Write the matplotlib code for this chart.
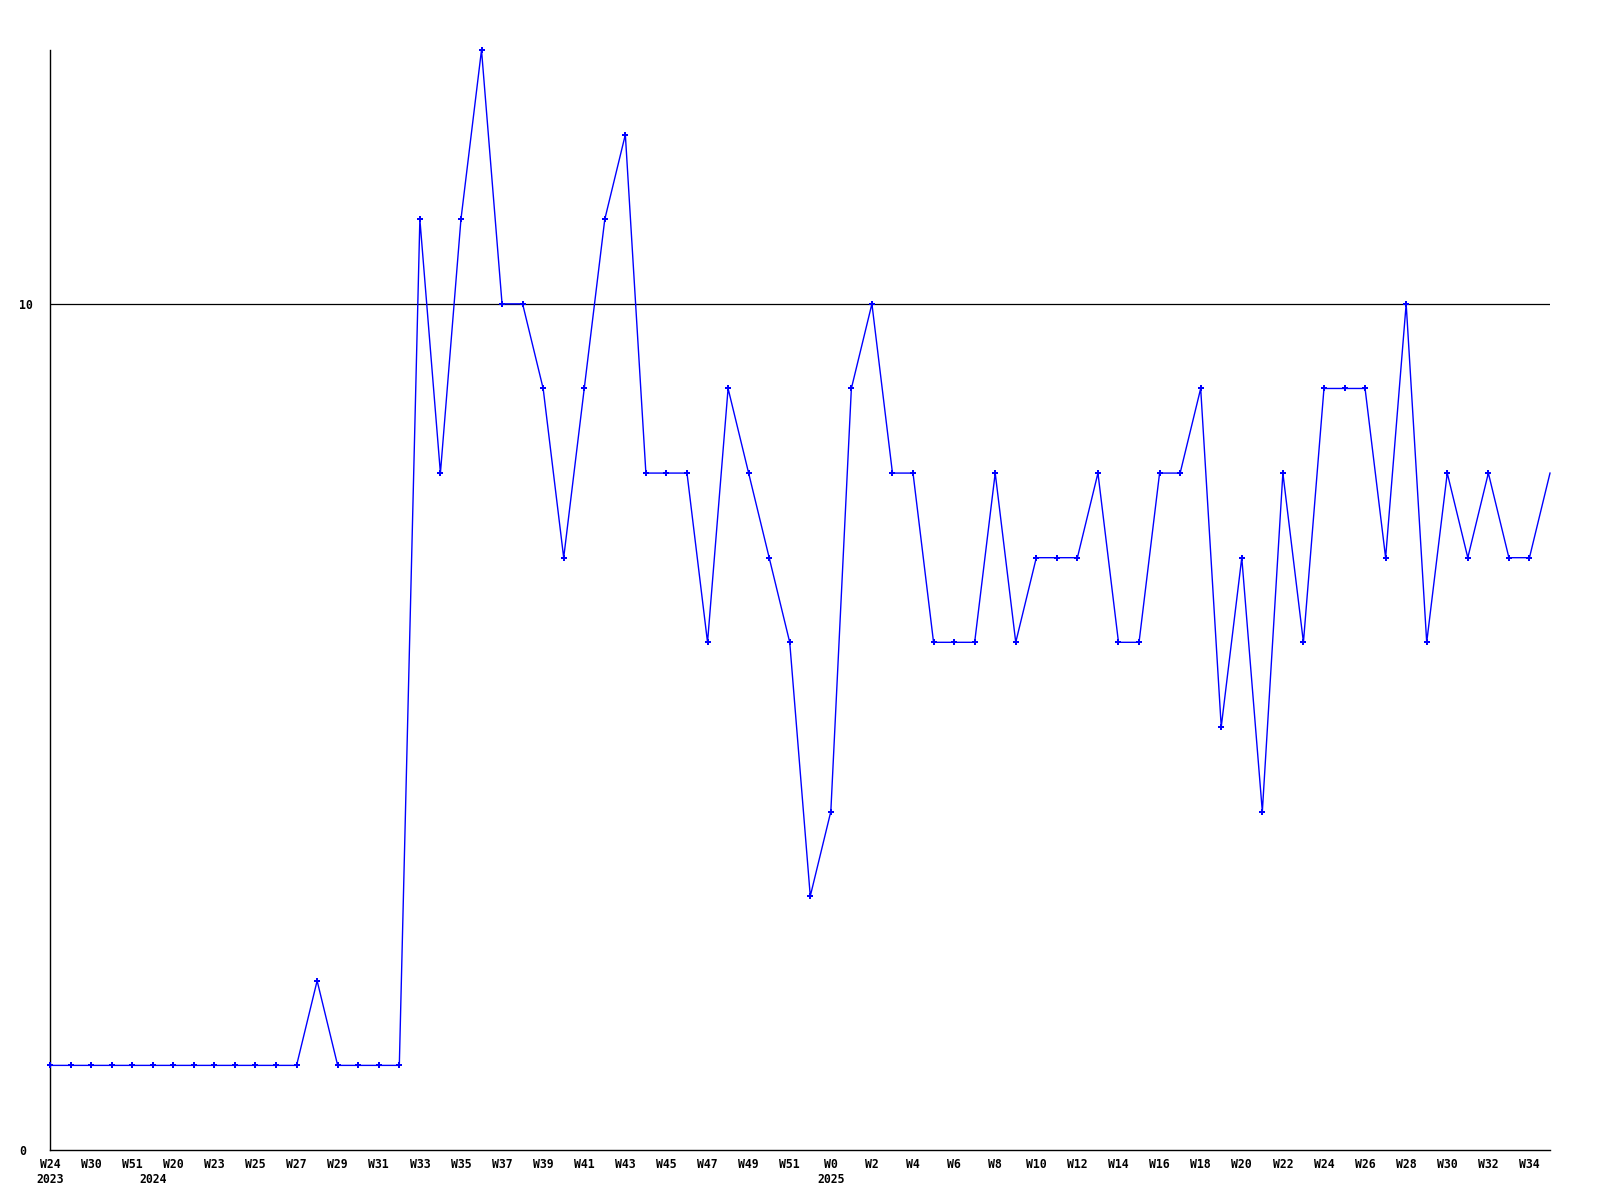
"""Weekly count line chart"""
import matplotlib

matplotlib.use("Agg")
import matplotlib.pyplot as plt
import matplotlib.transforms as mtransforms
import numpy as np

values = [
    1, 1, 1, 1, 1, 1, 1, 1, 1, 1, 1, 1, 1, 2, 1, 1, 1, 1,
    11, 8, 11, 13, 10, 10, 9, 7, 9, 11, 12, 8, 8, 8, 6, 9, 8, 7, 6, 3, 4,
    9, 10, 8, 8, 6, 6, 6, 8, 6, 7, 7, 7, 8, 6, 6, 8, 8, 9, 5, 7, 4,
    8, 6, 9, 9, 9, 7, 10, 6, 8, 7, 8, 7, 7, 8,
]
week_labels = [
    "W24", "W30", "W51", "W20", "W23", "W25", "W27", "W29", "W31", "W33",
    "W35", "W37", "W39", "W41", "W43", "W45", "W47", "W49", "W51", "W0",
    "W2", "W4", "W6", "W8", "W10", "W12", "W14", "W16", "W18", "W20",
    "W22", "W24", "W26", "W28", "W30", "W32", "W34",
]
year_labels = ["2023", "2024", "2025"]
year_pos = [0, 5, 38]

x = np.arange(len(values))
font = {"family": "DejaVu Sans Mono", "weight": "bold", "size": 8.3}

fig = plt.figure(figsize=(16, 12), dpi=100)
ax = fig.add_axes([50 / 1600, 50 / 1200, 1500 / 1600, 1100 / 1200])

ax.axhline(10, color="black", lw=0.9, zorder=1)
ax.plot(
    x, values, color="#0000ff", lw=1.0, marker="P", markersize=4,
    markeredgewidth=0, markevery=list(range(len(values) - 1)), zorder=3,
    clip_on=False,
)

ax.set_xlim(0, len(values) - 1)
ax.set_ylim(0, 13)
for s in ["top", "right"]:
    ax.spines[s].set_visible(False)
ax.spines["left"].set_linewidth(1.0)
ax.spines["bottom"].set_linewidth(1.0)

ax.set_xticks(x[::2])
ax.set_xticklabels(week_labels, fontdict=font)
ax.tick_params(axis="x", which="major", length=0, pad=6)

# year markers under the week labels
trans = mtransforms.blended_transform_factory(ax.transData, ax.transAxes)
for pos, yr in zip(year_pos, year_labels):
    ax.text(pos, -23 / 1100, yr, transform=trans, ha="center", va="top",
            fontdict=font)

ax.set_yticks([0, 10])
ax.set_yticklabels(["0", "10"], fontdict=font, ha="left")
ax.tick_params(axis="y", length=0, pad=22)

fig.savefig("out.png", dpi=100)
